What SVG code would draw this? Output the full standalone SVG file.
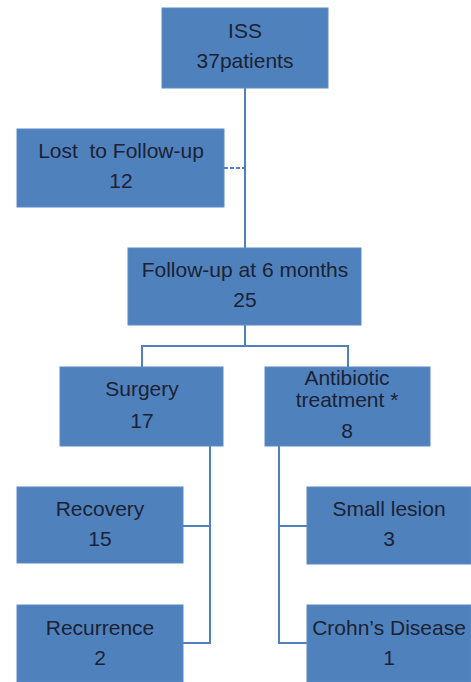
<svg xmlns="http://www.w3.org/2000/svg" width="471" height="682" viewBox="0 0 471 682">
<style>
.box{fill:#4f81bd;stroke:#5b8ac4;stroke-width:1}
.t{font-family:"Liberation Sans",Arial,sans-serif;font-size:21px;fill:#1c2233;text-anchor:middle;white-space:pre}
.c{fill:none;stroke:#4f81bd;stroke-width:2}
</style>
<rect width="471" height="682" fill="#ffffff"/>
<g id="connectors">
<line class="c" x1="245" y1="88" x2="245" y2="248"/>
<line class="c" x1="224" y1="168" x2="245" y2="168" stroke-dasharray="4 2"/>
<polyline class="c" points="245,325 245,346"/>
<polyline class="c" points="142,367 142,346 348,346 348,367"/>
<polyline class="c" points="210,446 210,643 183,643"/>
<line class="c" x1="183" y1="526" x2="210" y2="526"/>
<polyline class="c" points="279,446 279,643 307,643"/>
<line class="c" x1="279" y1="526" x2="307" y2="526"/>
</g>
<g id="iss">
<rect class="box" x="162" y="8" width="166" height="80"/>
<text class="t" x="245" y="38">ISS</text>
<text class="t" x="245" y="68">37patients</text>
</g>
<g id="lost">
<rect class="box" x="17" y="129" width="207" height="78"/>
<text class="t" x="121" y="158" xml:space="preserve">Lost  to Follow-up</text>
<text class="t" x="121" y="188">12</text>
</g>
<g id="followup">
<rect class="box" x="128" y="248" width="233" height="77"/>
<text class="t" x="245" y="277">Follow-up at 6 months</text>
<text class="t" x="245" y="307">25</text>
</g>
<g id="surgery">
<rect class="box" x="60" y="367" width="163" height="79"/>
<text class="t" x="142" y="396">Surgery</text>
<text class="t" x="142" y="428">17</text>
</g>
<g id="antibiotic">
<rect class="box" x="265" y="367" width="165" height="79"/>
<text class="t" x="347" y="385">Antibiotic</text>
<text class="t" x="347" y="407">treatment *</text>
<text class="t" x="347" y="438">8</text>
</g>
<g id="recovery">
<rect class="box" x="17" y="487" width="166" height="76"/>
<text class="t" x="100" y="516">Recovery</text>
<text class="t" x="100" y="546">15</text>
</g>
<g id="recurrence">
<rect class="box" x="17" y="605" width="166" height="77"/>
<text class="t" x="100" y="635">Recurrence</text>
<text class="t" x="100" y="665">2</text>
</g>
<g id="smalllesion">
<rect class="box" x="307" y="487" width="164" height="77"/>
<text class="t" x="389" y="516">Small lesion</text>
<text class="t" x="389" y="546">3</text>
</g>
<g id="crohns">
<rect class="box" x="307" y="605" width="164" height="77"/>
<text class="t" x="389" y="635">Crohn’s Disease</text>
<text class="t" x="389" y="665">1</text>
</g>
</svg>
